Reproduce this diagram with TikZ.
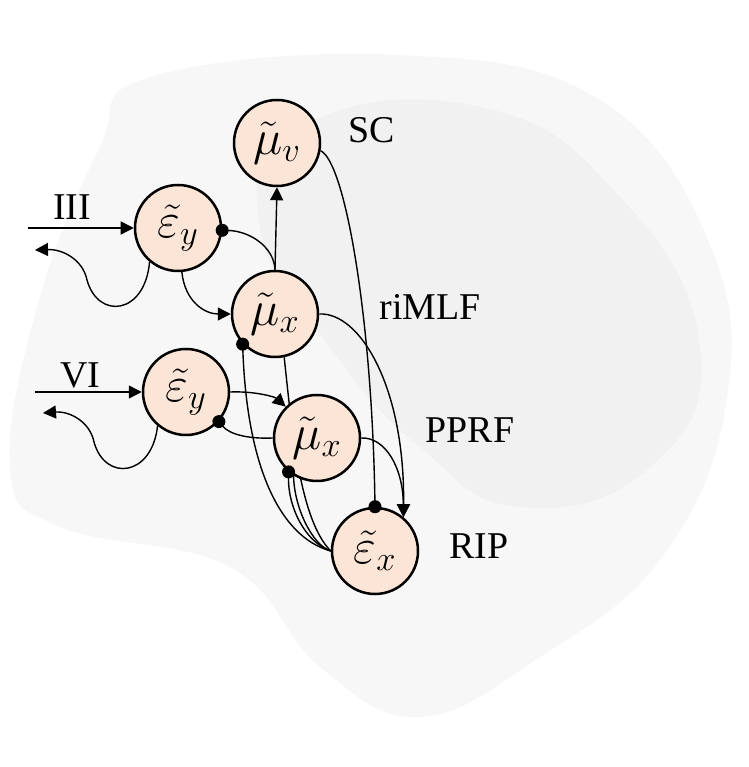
\documentclass[tikz,border=0pt]{standalone}
\usepackage{fontspec}
\setmainfont{Liberation Serif}
\usepackage{tikz}
\usetikzlibrary{arrows.meta}
\definecolor{cellfill}{HTML}{FBE5D6}
\definecolor{brainlight}{HTML}{F7F7F7}
\definecolor{braindark}{HTML}{F1F1F1}
\tikzset{
  cell/.style={circle,draw,line width=1.25bp,fill=cellfill,minimum size=43bp,inner sep=0pt,font=\fontsize{24}{28}\selectfont},
  area/.style={font=\fontsize{19}{22}\selectfont,inner sep=0pt},
  wire/.style={line width=0.7bp},
  exc/.style={wire,-{Triangle[length=6.5bp,width=6.5bp]}},
  inh/.style={wire,-{Circle[length=6.5bp]},shorten >=-3.25bp}
}

\begin{document}
\begin{tikzpicture}[x=0.5bp,y=0.5bp]
\useasboundingbox (0,0) rectangle (749,767);
% faint brain in the back
\fill[brainlight] plot[smooth cycle,tension=0.7] coordinates {(150,690) (400,712) (600,667) (712,517) (725,357) (660,207) (540,110) (420,50) (320,100) (230,200) (60,240) (10,300) (40,470) (100,620)};
\fill[braindark] plot[smooth cycle,tension=0.8] coordinates {(300,640) (480,660) (620,570) (700,420) (650,300) (520,260) (420,320) (330,420) (260,540)};

\node[cell] (muv) at (277,624) {$\tilde{\mu}_v$};
\node[cell] (epsy3) at (178,539) {$\tilde{\varepsilon}_y$};
\node[cell] (mux3) at (275,453) {$\tilde{\mu}_x$};
\node[cell] (epsx) at (375,216) {$\tilde{\varepsilon}_x$};
\draw[wire] (mux3.-78) .. controls (292,337) and (300,247) .. (epsx.west);
\node[cell] (epsy6) at (186,375) {$\tilde{\varepsilon}_y$};
\node[cell] (mux6) at (317,329) {$\tilde{\mu}_x$};

\node[area] (sc) at (372,637) {SC};
\node[area] (rimlf) at (430,460) {riMLF};
\node[area] (pprf) at (470,337) {PPRF};
\node[area] (rip) at (479,221) {RIP};
\node[area] (iii) at (72,560) {III};
\node[area] (vi) at (80,392) {VI};

\coordinate (iiiin) at (28,539);
\coordinate (iiiout) at (35,517);
\coordinate (viin) at (35,375);
\coordinate (viout) at (43,354);

\draw[exc] (iiiin) -- (epsy3.west);
\draw[exc] (epsy3.-130) .. controls (145,452) and (98,447) .. (87,487) .. controls (83,507) and (63,518) .. (iiiout);
\draw[exc] (epsy3.-85) .. controls (185,465) and (205,453) .. (mux3.west);
\draw[exc] (mux3.north) -- (muv.south);
\draw[inh] (mux3.north) .. controls (274,520) and (250,536) .. (epsy3.-3);
\draw[inh] (muv.-10) .. controls (345,605) and (372,450) .. (epsx.north);
\draw[exc] (mux3.east) .. controls (360,455) and (405,380) .. (epsx.50);
\draw[exc] (mux6.east) .. controls (385,330) and (403,300) .. (epsx.50);

\draw[exc] (viin) -- (epsy6.west);
\draw[exc] (epsy6.-130) .. controls (152,290) and (105,285) .. (94,325) .. controls (90,345) and (70,356) .. (viout);
\draw[exc] (epsy6.east) .. controls (255,376) and (275,370) .. (mux6.135);
\draw[inh] (mux6.west) .. controls (250,328) and (230,332) .. (epsy6.-42);

\draw[inh] (epsx.west) .. controls (280,230) and (247,300) .. (mux3.223);
\draw[inh] (epsx.west) .. controls (305,225) and (288,260) .. (mux6.230);
\draw[wire] (epsx.west) .. controls (312,222) and (294,260) .. (mux6.238);
\end{tikzpicture}
\end{document}
